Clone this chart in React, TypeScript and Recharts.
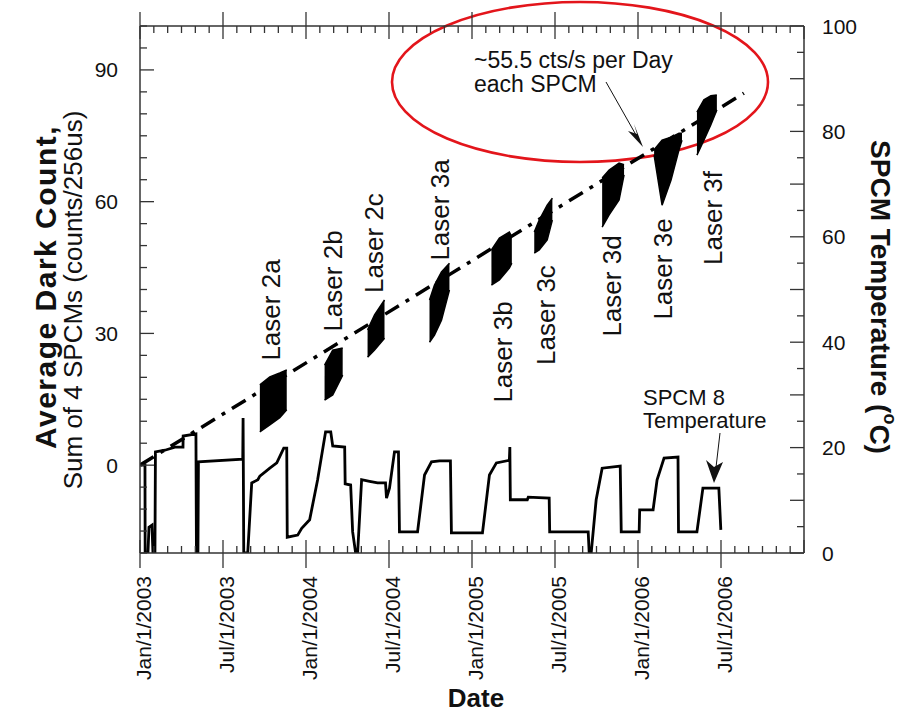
import React from "react";
import { ComposedChart, XAxis, YAxis, Line, Area, Customized } from "recharts";

const FONT = "'Liberation Sans', Arial, Helvetica, sans-serif";
const AX = "#333";
const INK = "#111";

// plot frame edges (px), used only for tick/decoration drawing
const PL = 140;
const PR = 804;
const PT = 26;
const PB = 553;

// ---------- axis ticks ----------
const X_START = 2003;
const X_END = 2007;
const DATE_LABELS = [
  "Jan/1/2003",
  "Jul/1/2003",
  "Jan/1/2004",
  "Jul/1/2004",
  "Jan/1/2005",
  "Jul/1/2005",
  "Jan/1/2006",
  "Jul/1/2006",
];
const MONTH_TICKS: number[] = [];
for (let i = 0; i <= 48; i++) MONTH_TICKS.push(X_START + i / 12);

const LEFT_TICKS = [-20, -15, -10, -5, 0, 5, 10, 15, 20, 25, 30, 35, 40, 45, 50, 55, 60, 65, 70, 75, 80, 85, 90, 95, 100];
const LEFT_LABELS = [0, 30, 60, 90];
const RIGHT_TICKS = [0, 5, 10, 15, 20, 25, 30, 35, 40, 45, 50, 55, 60, 65, 70, 75, 80, 85, 90, 95, 100];
const RIGHT_LABELS = [0, 20, 40, 60, 80, 100];

// ---------- SPCM 8 temperature (deg C), x in decimal years ----------
const TEMP_YR = [
  2003.003, 2003.03, 2003.031, 2003.048, 2003.054, 2003.072, 2003.078, 2003.09, 2003.093, 2003.15,
  2003.21, 2003.259, 2003.26, 2003.337, 2003.34, 2003.349, 2003.352, 2003.619, 2003.621, 2003.625,
  2003.649, 2003.673, 2003.71, 2003.722, 2003.782, 2003.824, 2003.866, 2003.884, 2003.887, 2003.95,
  2003.974, 2004.022, 2004.07, 2004.118, 2004.149, 2004.161, 2004.233, 2004.236, 2004.269, 2004.281,
  2004.299, 2004.311, 2004.335, 2004.383, 2004.431, 2004.479, 2004.485, 2004.503, 2004.533, 2004.557,
  2004.563, 2004.672, 2004.714, 2004.756, 2004.804, 2004.87, 2004.876, 2005.063, 2005.105, 2005.147,
  2005.225, 2005.228, 2005.231, 2005.333, 2005.339, 2005.465, 2005.468, 2005.7, 2005.706, 2005.718,
  2005.748, 2005.784, 2005.893, 2005.899, 2006.007, 2006.01, 2006.091, 2006.115, 2006.157, 2006.241,
  2006.244, 2006.355, 2006.391, 2006.487, 2006.499,
];
const TEMP_C = [
  16.7, 16.7, 0, 0, 4.9, 5.3, 0, 0, 19.2, 19.5,
  20.1, 20.1, 22.2, 22.6, 0, 0, 17.3, 17.8, 25.6, 0,
  0, 13.3, 13.9, 14.6, 16.1, 17.1, 19.9, 19.9, 3.0, 3.4,
  4.7, 6.3, 13.9, 23.0, 23.0, 20.3, 20.1, 13.1, 12.9, 4.0,
  0, 0, 13.9, 13.6, 13.3, 13.3, 10.4, 12.3, 19.2, 19.2,
  4.0, 4.0, 14.8, 17.3, 17.5, 17.5, 3.8, 3.8, 14.8, 17.1,
  17.6, 20.1, 10.1, 10.1, 10.6, 10.4, 4.0, 4.0, 0, 0,
  10.1, 16.1, 16.5, 4.0, 4.0, 8.2, 8.2, 13.9, 18.0, 18.2,
  4.0, 4.0, 12.3, 12.3, 4.4,
];
const tempData = TEMP_YR.map((yr, i) => ({ yr, t: TEMP_C[i] }));

// ---------- dark count bands per laser: [year, low, high] ----------
const LASER_2A = [[2003.722, 7.6, 18.3], [2003.782, 9.2, 20.1], [2003.842, 10.8, 21.0], [2003.884, 12.6, 21.7]];
const LASER_2B = [[2004.112, 14.8, 22.8], [2004.161, 16.0, 26.2], [2004.221, 20.5, 26.7]];
const LASER_2C = [[2004.371, 24.6, 30.8], [2004.413, 26.2, 34.2], [2004.473, 28.9, 37.6]];
const LASER_3A = [[2004.744, 28.0, 37.6], [2004.774, 29.6, 41.0], [2004.816, 33.0, 44.0], [2004.864, 39.9, 46.0]];
const LASER_3B = [[2005.117, 41.0, 49.0], [2005.165, 42.2, 51.7], [2005.225, 44.9, 53.1], [2005.24, 46.0, 52.0]];
const LASER_3C = [[2005.375, 48.3, 53.1], [2005.405, 49.0, 55.8], [2005.453, 51.3, 59.2], [2005.484, 55.8, 60.8]];
const LASER_3D = [[2005.784, 54.2, 65.4], [2005.826, 57.0, 67.2], [2005.886, 60.4, 68.8], [2005.916, 66.1, 68.4]];
const LASER_3E = [[2006.097, 70.6, 71.8], [2006.145, 59.2, 74.0], [2006.199, 64.9, 74.7], [2006.247, 71.8, 75.6], [2006.265, 74.0, 75.6]];
const LASER_3F = [[2006.355, 70.6, 80.4], [2006.397, 74.0, 83.2], [2006.439, 77.5, 84.1], [2006.475, 80.9, 84.3]];
const BANDS = [LASER_2A, LASER_2B, LASER_2C, LASER_3A, LASER_3B, LASER_3C, LASER_3D, LASER_3E, LASER_3F];
const bandData = BANDS.map((b) => b.map(([yr, lo, hi]) => ({ yr, range: [lo, hi] })));

// ---------- dash-dot trend (~55.5 cts/s per day each SPCM) ----------
const TREND_YR = [2003.0, 2006.638];
const TREND_V = [0, 84.7];
const trendData = TREND_YR.map((yr, i) => ({ yr, v: TREND_V[i] }));

// ---------- labels ----------
const LASER_NAMES = ["Laser 2a", "Laser 2b", "Laser 2c", "Laser 3a", "Laser 3b", "Laser 3c", "Laser 3d", "Laser 3e", "Laser 3f"];
const LASER_POS = [
  [271, 310], [333, 281], [374, 243], [440, 210], [503, 352], [546, 315], [612, 286], [663, 269], [713, 218],
];

const monthIndex = (v: number) => Math.round((v - X_START) * 12);

const BottomTick = (props: any) => {
  const x = props.x;
  const idx = monthIndex(props.payload.value);
  const major = idx % 6 === 0;
  const last = idx === 48;
  const label = major && !last ? DATE_LABELS[idx / 6] : null;
  return (
    <g>
      <line
        x1={x}
        x2={x}
        y1={PB - (major ? 13 : 7)}
        y2={major && !last ? PB + 15 : PB}
        stroke={AX}
        strokeWidth={1.3}
      />
      {label && (
        <text
          x={x + 3}
          y={576}
          transform={`rotate(-90, ${x + 3}, 576)`}
          textAnchor="end"
          dominantBaseline="central"
          fontSize={21}
          fontFamily={FONT}
          fill={INK}
        >
          {label}
        </text>
      )}
    </g>
  );
};

const TopTick = (props: any) => {
  const x = props.x;
  const idx = monthIndex(props.payload.value);
  const major = idx % 6 === 0;
  const last = idx === 48;
  return (
    <line
      x1={x}
      x2={x}
      y1={major && !last ? PT - 14 : PT}
      y2={PT + (major ? 13 : 7)}
      stroke={AX}
      strokeWidth={1.3}
    />
  );
};

const LeftTick = (props: any) => {
  const y = props.y;
  const v = props.payload.value;
  const major = LEFT_LABELS.includes(v);
  return (
    <g>
      <line x1={PL} x2={PL + (major ? 14 : 7)} y1={y} y2={y} stroke={AX} strokeWidth={1.3} />
      {major && (
        <text x={118} y={y} textAnchor="end" dominantBaseline="central" fontSize={21} fontFamily={FONT} fill={INK}>
          {v}
        </text>
      )}
    </g>
  );
};

const RightTick = (props: any) => {
  const y = props.y;
  const v = props.payload.value;
  const major = v % 10 === 0;
  const lab = RIGHT_LABELS.includes(v);
  return (
    <g>
      <line x1={PR - (major ? 14 : 7)} x2={PR} y1={y} y2={y} stroke={AX} strokeWidth={1.3} />
      {lab && (
        <text x={822} y={y} textAnchor="start" dominantBaseline="central" fontSize={21} fontFamily={FONT} fill={INK}>
          {v}
        </text>
      )}
    </g>
  );
};

const Annotations = () => (
  <g fontFamily={FONT} fill={INK}>
    {LASER_NAMES.map((name, i) => {
      const [cx, cy] = LASER_POS[i];
      return (
        <text
          key={name}
          x={cx}
          y={cy}
          transform={`rotate(-90, ${cx}, ${cy})`}
          textAnchor="middle"
          dominantBaseline="central"
          fontSize={26}
        >
          {name}
        </text>
      );
    })}
    <text x={474} y={68} fontSize={23}>~55.5 cts/s per Day</text>
    <text x={474} y={92} fontSize={23}>each SPCM</text>
    <line x1={606} y1={82} x2={640} y2={142} stroke={INK} strokeWidth={1} />
    <polygon points="643,147 628,131 637,134 634,124" fill={INK} />
    <text x={643} y={405} fontSize={22}>SPCM 8</text>
    <text x={643} y={428} fontSize={22}>Temperature</text>
    <line x1={720} y1={433} x2={715} y2={476} stroke={INK} strokeWidth={1} />
    <polygon points="714,483 706,460 714,467 723,462" fill={INK} />
    <ellipse cx={580} cy={82} rx={188} ry={80} fill="none" stroke="#e3151b" strokeWidth={2.6} />
    <text
      x={45}
      y={287}
      transform="rotate(-90, 45, 287)"
      textAnchor="middle"
      dominantBaseline="central"
      fontSize={30}
      letterSpacing={1.5}
      fontWeight="bold"
    >
      Average Dark Count,
    </text>
    <text
      x={73}
      y={300}
      transform="rotate(-90, 73, 300)"
      textAnchor="middle"
      dominantBaseline="central"
      fontSize={26}
    >
      Sum of 4 SPCMs (counts/256us)
    </text>
    <text
      x={880}
      y={297}
      transform="rotate(90, 880, 297)"
      textAnchor="middle"
      dominantBaseline="central"
      fontSize={28}
      fontWeight="bold"
    >
      SPCM Temperature (<tspan dy={-10} fontSize={18}>o</tspan>
      <tspan dy={10}>C)</tspan>
    </text>
    <text x={476} y={707} textAnchor="middle" fontSize={26} fontWeight="bold">
      Date
    </text>
  </g>
);

export default function App() {
  return (
    <div style={{ position: "absolute", left: 0, top: 0, width: 913, height: 715, background: "#fff" }}>
      <ComposedChart width={913} height={715} margin={{ top: 16, right: 49, bottom: 62, left: 80 }}>
        <XAxis
          xAxisId="b"
          type="number"
          dataKey="yr"
          orientation="bottom"
          domain={[X_START, X_END]}
          ticks={MONTH_TICKS}
          interval={0}
          allowDataOverflow
          height={100}
          tickSize={0}
          tickMargin={0}
          tickLine={false}
          axisLine={{ stroke: AX, strokeWidth: 1.5 }}
          tick={<BottomTick />}
        />
        <XAxis
          xAxisId="t"
          type="number"
          dataKey="yr"
          orientation="top"
          domain={[X_START, X_END]}
          ticks={MONTH_TICKS}
          interval={0}
          allowDataOverflow
          height={10}
          tickSize={0}
          tickMargin={0}
          tickLine={false}
          axisLine={{ stroke: AX, strokeWidth: 1.5 }}
          tick={<TopTick />}
        />
        <YAxis
          yAxisId="l"
          type="number"
          orientation="left"
          domain={[-20, 100]}
          ticks={LEFT_TICKS}
          interval={0}
          allowDataOverflow
          width={60}
          tickSize={0}
          tickMargin={0}
          tickLine={false}
          axisLine={{ stroke: AX, strokeWidth: 1.5 }}
          tick={<LeftTick />}
        />
        <YAxis
          yAxisId="r"
          type="number"
          orientation="right"
          domain={[0, 100]}
          ticks={RIGHT_TICKS}
          interval={0}
          allowDataOverflow
          width={60}
          tickSize={0}
          tickMargin={0}
          tickLine={false}
          axisLine={{ stroke: AX, strokeWidth: 1.5 }}
          tick={<RightTick />}
        />
        {bandData.map((d, i) => (
          <Area
            key={"band" + i}
            data={d}
            xAxisId="b"
            yAxisId="l"
            dataKey="range"
            type="linear"
            stroke="#000"
            strokeWidth={1.5}
            fill="#000"
            fillOpacity={1}
            dot={false}
            activeDot={false}
            isAnimationActive={false}
          />
        ))}
        <Line
          data={trendData}
          xAxisId="b"
          yAxisId="l"
          dataKey="v"
          type="linear"
          stroke="#000"
          strokeWidth={3.5}
          strokeDasharray="16 8 4 8"
          dot={false}
          activeDot={false}
          isAnimationActive={false}
        />
        <Line
          data={tempData}
          xAxisId="b"
          yAxisId="r"
          dataKey="t"
          type="linear"
          stroke="#000"
          strokeWidth={2.8}
          dot={false}
          activeDot={false}
          isAnimationActive={false}
        />
        <Customized component={Annotations} />
      </ComposedChart>
    </div>
  );
}
